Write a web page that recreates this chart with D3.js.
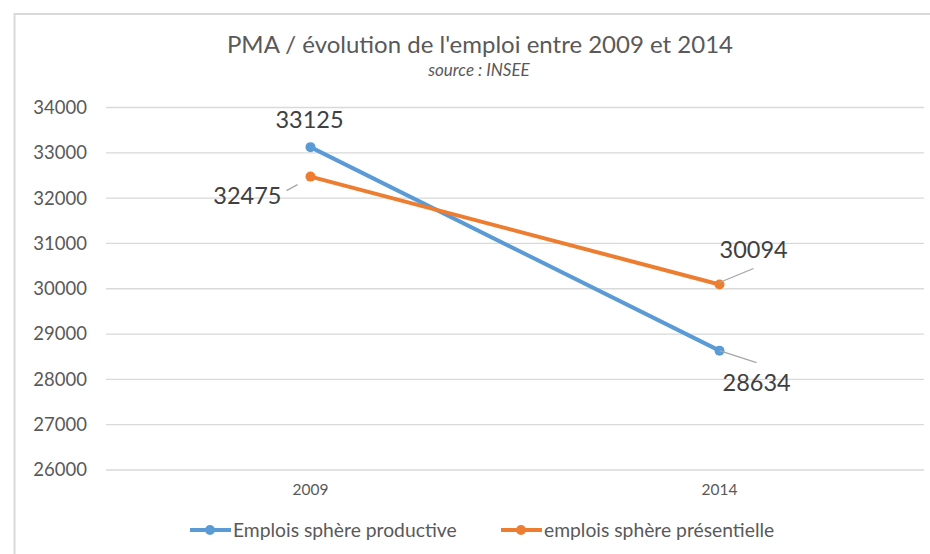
<!DOCTYPE html>
<html lang="fr">
<head>
    <meta charset="UTF-8">
    <title>PMA / évolution de l'emploi entre 2009 et 2014</title>
    <script src="https://d3js.org/d3.v7.min.js"></script>
    <style>
        body { margin: 0; background: #fff; }
        svg { display: block; font-family: Lato, "Open Sans", sans-serif; }
    </style>
</head>
<body>
    <div id="chart"></div>
    <script>
        const width = 930;
        const height = 554;

        // chart data
        const years = ["2009", "2014"];
        const productive = [33125, 28634];
        const presentielle = [32475, 30094];
        const seriesNames = ["Emplois sphère productive", "emplois sphère présentielle"];
        const seriesColors = ["#5b9bd5", "#ed7d31"];
        const yTicks = [26000, 27000, 28000, 29000, 30000, 31000, 32000, 33000, 34000];

        const svg = d3.select("#chart").append("svg")
            .attr("width", width)
            .attr("height", height);

        // outer frame (left + top only visible)
        svg.append("path")
            .attr("d", "M14.5,554 V14 H930")
            .attr("fill", "none")
            .attr("stroke", "#d9d9d9")
            .attr("stroke-width", 2);

        const x = d3.scaleBand().domain(years).range([106, 924]);
        const y = d3.scaleLinear().domain([26000, 34000]).range([470, 107.5]);

        // gridlines
        svg.append("g")
            .selectAll("line")
            .data(yTicks)
            .join("line")
            .attr("x1", 106).attr("x2", 924)
            .attr("y1", d => y(d)).attr("y2", d => y(d))
            .attr("stroke", "#d9d9d9")
            .attr("stroke-width", 1.3);

        // y axis labels
        const yAxis = svg.append("g")
            .attr("transform", "translate(95,0)")
            .call(d3.axisLeft(y).tickValues(yTicks).tickSize(0).tickPadding(8).tickFormat(d3.format("d")));
        yAxis.select(".domain").remove();
        yAxis.selectAll("text")
            .attr("font-size", 18.5)
            .attr("fill", "#595959")
            .attr("font-family", "Lato, sans-serif");

        // x axis labels
        const xAxis = svg.append("g")
            .attr("transform", "translate(0,476)")
            .call(d3.axisBottom(x).tickSize(0).tickPadding(8));
        xAxis.select(".domain").remove();
        xAxis.selectAll("text")
            .attr("font-size", 15.5)
            .attr("fill", "#595959")
            .attr("font-family", "Lato, sans-serif");

        const cx = d => x(d) + x.bandwidth() / 2;

        const series = [productive, presentielle];
        const line = d3.line().x((d, i) => cx(years[i])).y(d => y(d));

        series.forEach((vals, s) => {
            svg.append("path")
                .datum(vals)
                .attr("d", line)
                .attr("fill", "none")
                .attr("stroke", seriesColors[s])
                .attr("stroke-width", 4)
                .attr("stroke-linecap", "round");
            svg.append("g")
                .selectAll("circle")
                .data(vals)
                .join("circle")
                .attr("cx", (d, i) => cx(years[i]))
                .attr("cy", d => y(d))
                .attr("r", 5)
                .attr("fill", seriesColors[s]);
        });

        // data labels with leader lines (offsets relative to point)
        const labels = [
            { v: productive[0], yr: "2009", dx: -1, dy: -19, anchor: "middle", leader: null },
            { v: presentielle[0], yr: "2009", dx: -29, dy: 27, anchor: "end", leader: [[-24, 14], [-13, 8]] },
            { v: presentielle[1], yr: "2014", dx: 0, dy: -26, anchor: "start", leader: [[0, -2], [34, -16]] },
            { v: productive[1], yr: "2014", dx: 3, dy: 40, anchor: "start", leader: [[0, 0], [37, 12]] }
        ];
        labels.forEach(l => {
            const px = cx(l.yr), py = y(l.v);
            if (l.leader) {
                svg.append("polyline")
                    .attr("points", l.leader.map(p => [px + p[0], py + p[1]].join(",")).join(" "))
                    .attr("fill", "none")
                    .attr("stroke", "#a6a6a6")
                    .attr("stroke-width", 1.3);
            }
            svg.append("text")
                .attr("x", px + l.dx)
                .attr("y", py + l.dy)
                .attr("text-anchor", l.anchor)
                .attr("font-size", 23.5)
                .attr("fill", "#404040")
                .text(d3.format("d")(l.v));
        });

        // title
        svg.append("text")
            .attr("x", 480).attr("y", 53)
            .attr("text-anchor", "middle")
            .attr("font-size", 24)
            .attr("fill", "#595959")
            .text("PMA / évolution de l'emploi entre 2009 et 2014");
        svg.append("text")
            .attr("x", 479).attr("y", 76)
            .attr("text-anchor", "middle")
            .attr("font-size", 17)
            .attr("font-style", "italic")
            .attr("fill", "#595959")
            .text("source : INSEE");

        // legend
        const legendX = [190, 501];
        seriesNames.forEach((name, s) => {
            const g = svg.append("g").attr("transform", `translate(${legendX[s]},530)`);
            g.append("line").attr("x1", 0).attr("x2", 41).attr("y1", 0).attr("y2", 0)
                .attr("stroke", seriesColors[s]).attr("stroke-width", 4);
            g.append("circle").attr("cx", 20).attr("cy", 0).attr("r", 5).attr("fill", seriesColors[s]);
            g.append("text").attr("x", 43).attr("y", 7)
                .attr("font-size", 19.3).attr("fill", "#595959").text(name);
        });
    </script>
</body>
</html>
